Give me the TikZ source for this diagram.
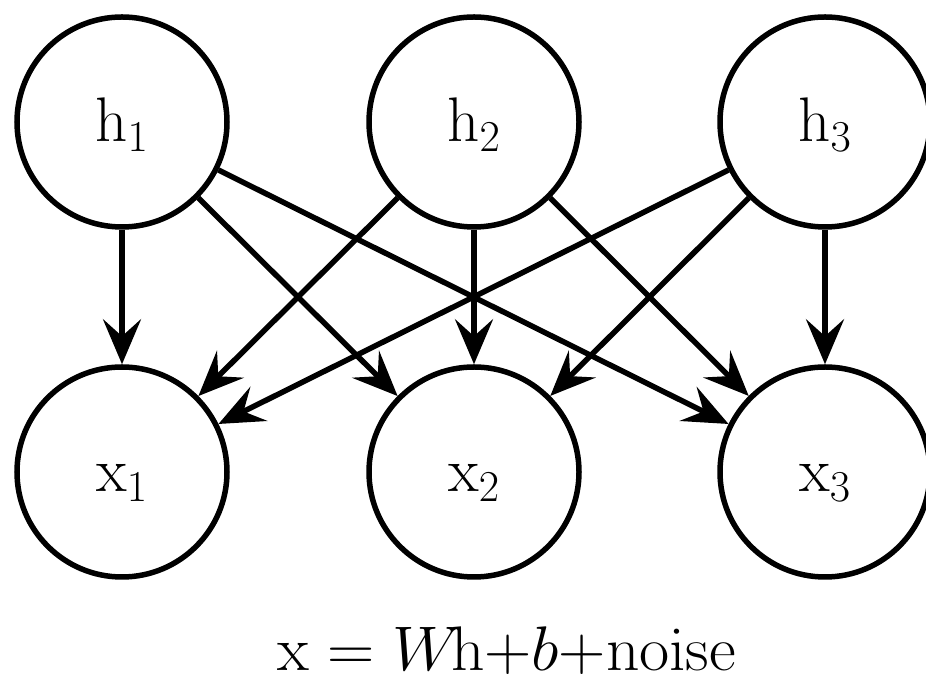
\RequirePackage{fix-cm}
\documentclass[tikz,border=0pt]{standalone}
\usetikzlibrary{arrows.meta}
\begin{document}
\begin{tikzpicture}[x=1pt,y=1pt,
  unit/.style={circle, draw, line width=5.5pt, minimum size=210pt, inner sep=0pt,
    text height=50pt, text depth=10pt, font=\fontsize{63}{75}\selectfont},
  conn/.style={line width=5.5pt, -{Stealth[length=45pt,width=38pt,inset=17pt]}},
  eqtext/.style={anchor=base west, inner sep=0pt, font=\fontsize{63}{75}\selectfont}]
\useasboundingbox (0,0) rectangle (926,679);
\node[unit] (h1) at (122,557) {$\mathrm{h}_1$};
\node[unit] (h2) at (474,557) {$\mathrm{h}_2$};
\node[unit] (h3) at (825,557) {$\mathrm{h}_3$};
\node[unit] (x1) at (122,207) {$\mathrm{x}_1$};
\node[unit] (x2) at (474,207) {$\mathrm{x}_2$};
\node[unit] (x3) at (825,207) {$\mathrm{x}_3$};
\foreach \i in {1,2,3}{
  \foreach \j in {1,2,3}{
    \draw[conn] (h\i) -- (x\j);
  }
}
\node[eqtext] (eq) at (277,8) {\scalebox{1.04}[1]{$\mathrm{x} = W\!\mathrm{h}{+}b{+}\mathrm{noise}$}};
\end{tikzpicture}
\end{document}
